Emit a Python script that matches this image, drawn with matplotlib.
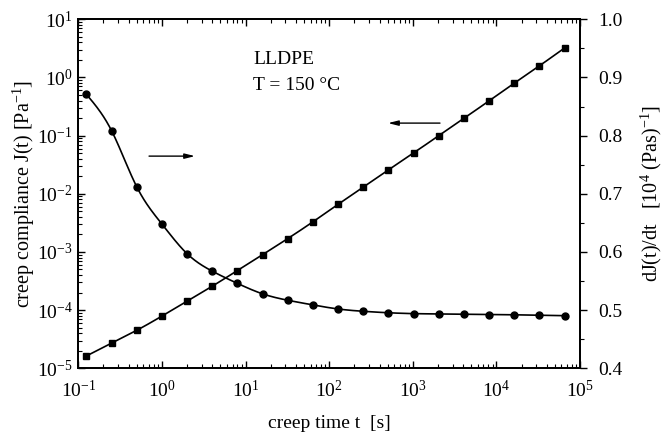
import numpy as np
import matplotlib
matplotlib.use("Agg")
import matplotlib.pyplot as plt
from matplotlib.ticker import LogLocator, FixedLocator, NullFormatter, MultipleLocator

plt.rcParams['font.family'] = ['Liberation Serif', 'DejaVu Serif']
plt.rcParams['mathtext.fontset'] = 'custom'
plt.rcParams['mathtext.rm'] = 'Liberation Serif'
plt.rcParams['mathtext.it'] = 'Liberation Serif:italic'

# ---- data ----
time_s = [0.125, 0.25, 0.5, 1, 2, 4, 8, 16, 32, 64, 128, 256, 512, 1024,
          2048, 4096, 8192, 16384, 32768, 65536]
compliance_J = [1.63e-5, 2.7e-5, 4.5e-5, 7.9e-5, 1.43e-4, 2.58e-4, 4.8e-4,
                9.0e-4, 1.7e-3, 3.3e-3, 6.6e-3, 1.3e-2, 2.58e-2, 5.05e-2,
                0.100, 0.198, 0.398, 0.80, 1.59, 3.22]
dJdt = [0.871, 0.8085, 0.712, 0.648, 0.597, 0.567, 0.546, 0.528, 0.517,
        0.509, 0.502, 0.498, 0.4955, 0.494, 0.4935, 0.493, 0.4925, 0.492,
        0.491, 0.4905]
x_ticklabels = ['10$^{-1}$', '10$^{0}$', '10$^{1}$', '10$^{2}$', '10$^{3}$', '10$^{4}$', '10$^{5}$']
y_ticklabels = ['10$^{-5}$', '10$^{-4}$', '10$^{-3}$', '10$^{-2}$', '10$^{-1}$', '10$^{0}$', '10$^{1}$']
right_ticks = [0.4, 0.5, 0.6, 0.7, 0.8, 0.9, 1.0]


def natural_spline(x, y, xn):
    x = np.asarray(x, float); y = np.asarray(y, float)
    n = len(x); h = np.diff(x)
    A = np.zeros((n, n)); r = np.zeros(n)
    A[0, 0] = 1; A[-1, -1] = 1
    for i in range(1, n - 1):
        A[i, i - 1] = h[i - 1]; A[i, i] = 2 * (h[i - 1] + h[i]); A[i, i + 1] = h[i]
        r[i] = 6 * ((y[i + 1] - y[i]) / h[i] - (y[i] - y[i - 1]) / h[i - 1])
    M = np.linalg.solve(A, r)
    idx = np.clip(np.searchsorted(x, xn) - 1, 0, n - 2)
    xi, xj, hi = x[idx], x[idx + 1], h[idx]
    return (M[idx] * (xj - xn)**3 / (6 * hi) + M[idx + 1] * (xn - xi)**3 / (6 * hi)
            + (y[idx] / hi - M[idx] * hi / 6) * (xj - xn)
            + (y[idx + 1] / hi - M[idx + 1] * hi / 6) * (xn - xi))


fig = plt.figure(figsize=(6.71, 4.43), dpi=100)
ax = fig.add_axes([0.1167, 0.1686, 0.7477, 0.7878])
ax2 = ax.twinx()

lt = np.log10(time_s)
ln = np.linspace(lt[0], lt[-1], 500)
ax.plot(10**ln, 10**natural_spline(lt, np.log10(compliance_J), ln), color='black', lw=1.2)
ax.plot(time_s, compliance_J, 's', color='black', ms=4.5)
ax2.plot(10**ln, natural_spline(lt, dJdt, ln), color='black', lw=1.2)
ax2.plot(time_s, dJdt, 'o', color='black', ms=5)

ax.set_xscale('log'); ax.set_yscale('log')
ax.set_xlim(1e-1, 1e5); ax.set_ylim(1e-5, 1e1)
ax2.set_ylim(0.4, 1.0)

ax.xaxis.set_major_locator(FixedLocator([10.0**k for k in range(-1, 6)]))
ax.set_xticklabels(x_ticklabels)
ax.xaxis.set_minor_locator(LogLocator(base=10, subs=np.arange(2, 10), numticks=50))
ax.xaxis.set_minor_formatter(NullFormatter())
ax.yaxis.set_major_locator(FixedLocator([10.0**k for k in range(-5, 2)]))
ax.set_yticklabels(y_ticklabels)
ax.yaxis.set_minor_locator(LogLocator(base=10, subs=np.arange(2, 10), numticks=50))
ax.yaxis.set_minor_formatter(NullFormatter())

ax.tick_params(axis='x', which='both', direction='in', top=True, labelsize=14, pad=8)
ax.tick_params(axis='y', which='both', direction='in', labelsize=14, pad=4)
ax.tick_params(which='major', length=5, width=1)
ax.tick_params(which='minor', length=3, width=0.8)

ax2.yaxis.set_major_locator(FixedLocator(right_ticks))
ax2.set_yticklabels([f'{v:.1f}' for v in right_ticks])
ax2.yaxis.set_minor_locator(MultipleLocator(0.05))
ax2.tick_params(axis='y', which='major', direction='out', length=5, width=1, labelsize=14, pad=8)
ax2.tick_params(axis='y', which='minor', direction='out', length=3, width=0.8)

for a in (ax, ax2):
    for s in a.spines.values():
        s.set_linewidth(1.3)

ax.set_xlabel('creep time t  [s]', fontsize=14, labelpad=10)
ax.set_ylabel('creep compliance J(t) [Pa$^{-1}$]', fontsize=14.5, labelpad=0)
ax2.set_ylabel('dJ(t)/dt   [10$^{4}$ (Pas)$^{-1}$]', fontsize=14.5, labelpad=12)

ax.text(0.348, 0.886, 'LLDPE', transform=ax.transAxes, fontsize=14, va='center', ha='left')
ax.text(0.348, 0.811, 'T = 150 °C', transform=ax.transAxes, fontsize=14, va='center', ha='left')

ap = dict(arrowstyle='-|>,head_length=0.6,head_width=0.15', color='black', lw=1, shrinkA=0, shrinkB=0)
ax.annotate('', xy=(0.2326, 0.608), xytext=(0.141, 0.608), xycoords='axes fraction', arrowprops=ap)
ax.annotate('', xy=(0.6173, 0.7026), xytext=(0.7209, 0.7026), xycoords='axes fraction', arrowprops=ap)

fig.savefig('out.png', dpi=100)
